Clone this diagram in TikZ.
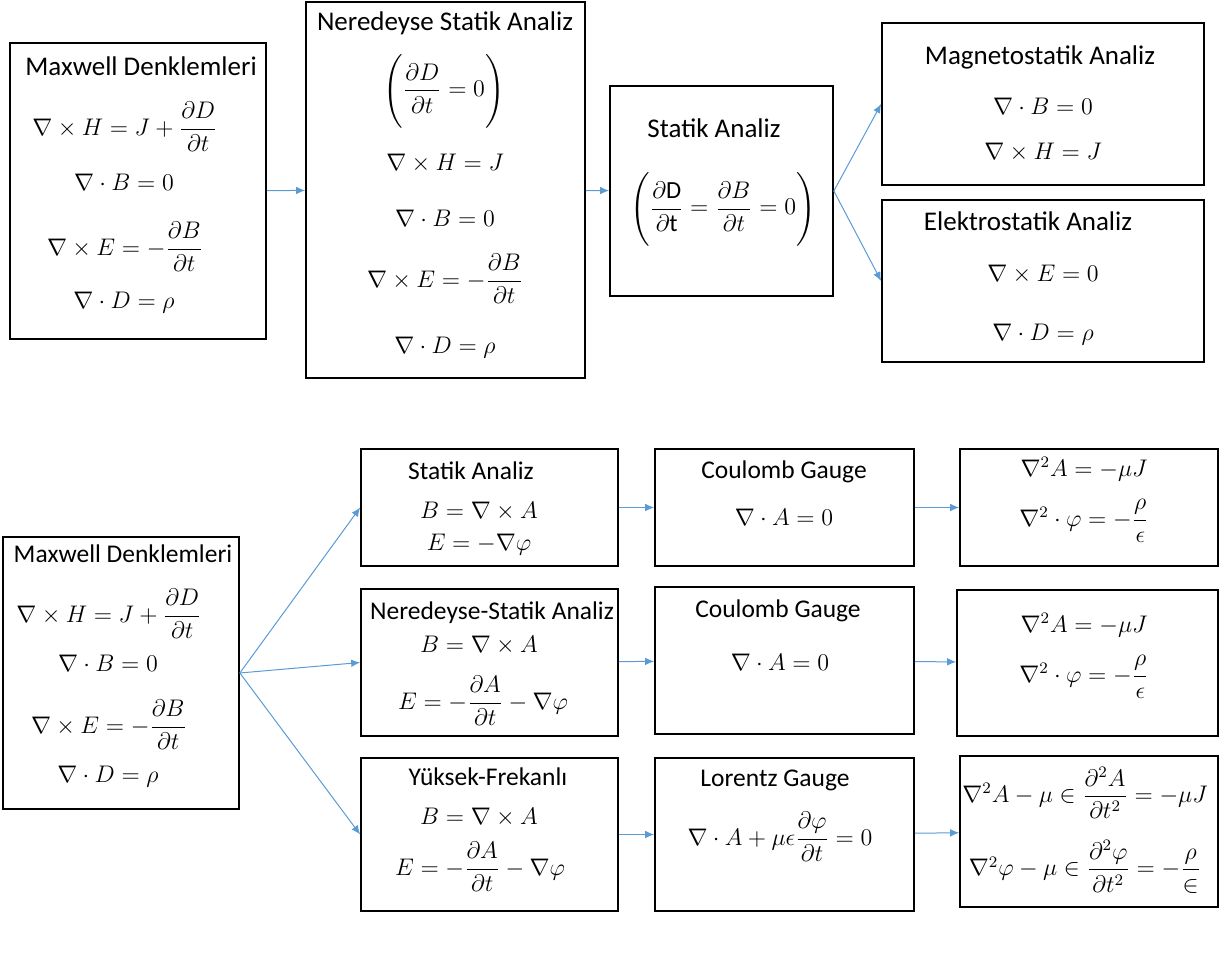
\documentclass[tikz,border=0pt]{standalone}
\usepackage{amsmath, amssymb}
\usepackage{fontspec}
\usepackage{xcolor}
\setmainfont{Carlito}
\usetikzlibrary{arrows.meta}
\definecolor{arrowblue}{RGB}{91,155,213}

\begin{document}
\begin{tikzpicture}[x=0.5pt, y=-0.5pt,
    box/.style={draw, rectangle, line width=0.85pt, inner sep=0pt},
    topfont/.style={inner sep=0pt, font=\fontsize{13.5pt}{16pt}\selectfont},
    botfont/.style={inner sep=0pt, font=\fontsize{12.75pt}{15pt}\selectfont},
    topmath/.style={inner sep=0pt, font=\fontsize{12.3pt}{14pt}\selectfont},
    botmath/.style={inner sep=0pt, font=\fontsize{11.5pt}{13pt}\selectfont},
    arr/.style={-{Latex[length=4.5pt, width=3.8pt]}, draw=arrowblue, line width=0.5pt}]
    \useasboundingbox (0,0) rectangle (1222,967);

    \node [box, minimum width=128pt, minimum height=148pt] (maxA) at (138,191) {};
    \node [box, minimum width=139.5pt, minimum height=188pt] (quasiA) at (445.5,190) {};
    \node [box, minimum width=111.5pt, minimum height=105pt] (statA) at (721.5,191) {};
    \node [box, minimum width=161pt, minimum height=81pt] (magA) at (1043,104) {};
    \node [box, minimum width=161pt, minimum height=81pt] (elecA) at (1043,281) {};

    \node [topfont] (maxAt) at (141,66) {Maxwell Denklemleri};
    \node [topmath] (maxA1) at (125,127) {$\nabla\times H = J + \dfrac{\partial D}{\partial t}$};
    \node [topmath] (maxA2) at (124,182) {$\nabla\cdot B = 0$};
    \node [topmath] (maxA3) at (125,247) {$\nabla\times E = -\dfrac{\partial B}{\partial t}$};
    \node [topmath] (maxA4) at (124,303) {$\nabla\cdot D = \rho$};

    \node [topfont] (quasiAt) at (445,23) {Neredeyse Statik Analiz};
    \node [topmath] (quasiA0) at (444,91) {$\Biggl(\dfrac{\partial D}{\partial t} = 0\Biggr)$};
    \node [topmath] (quasiA1) at (445,163) {$\nabla\times H = J$};
    \node [topmath] (quasiA2) at (445,218) {$\nabla\cdot B = 0$};
    \node [topmath] (quasiA3) at (445,279) {$\nabla\times E = -\dfrac{\partial B}{\partial t}$};
    \node [topmath] (quasiA4) at (445,348) {$\nabla\cdot D = \rho$};

    \node [topfont] (statAt) at (714,128) {Statik Analiz};
    \node [topmath] (statA0) at (723,209) {$\Biggl(\dfrac{\partial\textnormal{D}}{\partial\textnormal{t}} = \dfrac{\partial B}{\partial t} = 0\Biggr)$};

    \node [topfont] (magAt) at (1040,57) {Magnetostatik Analiz};
    \node [topmath] (magA1) at (1043,106) {$\nabla\cdot B = 0$};
    \node [topmath] (magA2) at (1043,152) {$\nabla\times H = J$};

    \node [topfont] (elecAt) at (1028,221) {Elektrostatik Analiz};
    \node [topmath] (elecA1) at (1043,274) {$\nabla\times E = 0$};
    \node [topmath] (elecA2) at (1043,335) {$\nabla\cdot D = \rho$};

    \draw [arr] (maxA) -- (quasiA);
    \draw [arr] (quasiA) -- (statA);
    \draw [arr] (statA.east) -- (magA.west);
    \draw [arr] (statA.east) -- (elecA.west);

    \node [box, minimum width=118pt, minimum height=136pt] (maxB) at (121,673) {};
    \node [box, minimum width=128.5pt, minimum height=58.5pt] (statB) at (489.5,507.5) {};
    \node [box, minimum width=128.5pt, minimum height=73.5pt] (quasiB) at (489.5,662.5) {};
    \node [box, minimum width=128.5pt, minimum height=76.5pt] (highB) at (489.5,834.5) {};
    \node [box, minimum width=129.5pt, minimum height=58.5pt] (coulA) at (784.5,507.5) {};
    \node [box, minimum width=129.5pt, minimum height=73.5pt] (coulB) at (784.5,660.5) {};
    \node [box, minimum width=129.5pt, minimum height=76.5pt] (lorB) at (784.5,834.5) {};
    \node [box, minimum width=129pt, minimum height=58.5pt] (resA) at (1089,507.5) {};
    \node [box, minimum width=130.5pt, minimum height=73pt] (resB) at (1087.5,663) {};
    \node [box, minimum width=129pt, minimum height=75.5pt] (resC) at (1089,831.5) {};

    \node [botfont] (maxBt) at (123,554) {Maxwell Denklemleri};
    \node [botmath] (maxB1) at (109,614) {$\nabla\times H = J + \dfrac{\partial D}{\partial t}$};
    \node [botmath] (maxB2) at (108,663) {$\nabla\cdot B = 0$};
    \node [botmath] (maxB3) at (109,725) {$\nabla\times E = -\dfrac{\partial B}{\partial t}$};
    \node [botmath] (maxB4) at (108,777) {$\nabla\cdot D = \rho$};

    \node [botfont] (statBt) at (471,471) {Statik Analiz};
    \node [botmath] (statB1) at (479,511) {$B = \nabla\times A$};
    \node [botmath] (statB2) at (479,545) {$E = -\nabla\varphi$};

    \node [botfont] (quasiBt) at (492,613) {Neredeyse-Statik Analiz};
    \node [botmath] (quasiB1) at (479,645) {$B = \nabla\times A$};
    \node [botmath] (quasiB2) at (483,701) {$E = -\dfrac{\partial A}{\partial t} - \nabla\varphi$};

    \node [botfont] (highBt) at (488,777) {Yüksek-Frekanlı};
    \node [botmath] (highB1) at (479,817) {$B = \nabla\times A$};
    \node [botmath] (highB2) at (480,867) {$E = -\dfrac{\partial A}{\partial t} - \nabla\varphi$};

    \node [botfont] (coulAt) at (784,472) {Coulomb Gauge};
    \node [botmath] (coulA1) at (784,517) {$\nabla\cdot A = 0$};
    \node [botfont] (coulBt) at (778,611) {Coulomb Gauge};
    \node [botmath] (coulB1) at (780,662) {$\nabla\cdot A = 0$};
    \node [botfont] (lorBt) at (775,780) {Lorentz Gauge};
    \node [botmath] (lorB1) at (780,837) {$\nabla\cdot A + \mu\epsilon\dfrac{\partial\varphi}{\partial t} = 0$};

    \node [botmath] (resA1) at (1084,469) {$\nabla^2 A = -\mu J$};
    \node [botmath] (resA2) at (1084,521) {$\nabla^2\cdot\varphi = -\dfrac{\rho}{\epsilon}$};
    \node [botmath] (resB1) at (1084,625) {$\nabla^2 A = -\mu J$};
    \node [botmath] (resB2) at (1084,677) {$\nabla^2\cdot\varphi = -\dfrac{\rho}{\epsilon}$};
    \node [botmath] (resC1) at (1085,793) {$\nabla^2 A - \mu\in\dfrac{\partial^2 A}{\partial t^2} = -\mu J$};
    \node [botmath] (resC2) at (1085,867) {$\nabla^2\varphi - \mu\in\dfrac{\partial^2\varphi}{\partial t^2} = -\dfrac{\rho}{\in}$};

    \draw [arr] (maxB.east) -- (statB.west);
    \draw [arr] (maxB.east) -- (quasiB.west);
    \draw [arr] (maxB.east) -- (highB.west);
    \draw [arr] (statB) -- (coulA);
    \draw [arr] (quasiB) -- (coulB);
    \draw [arr] (highB) -- (lorB);
    \draw [arr] (coulA) -- (resA);
    \draw [arr] (coulB) -- (resB);
    \draw [arr] (lorB) -- (resC);
\end{tikzpicture}
\end{document}
